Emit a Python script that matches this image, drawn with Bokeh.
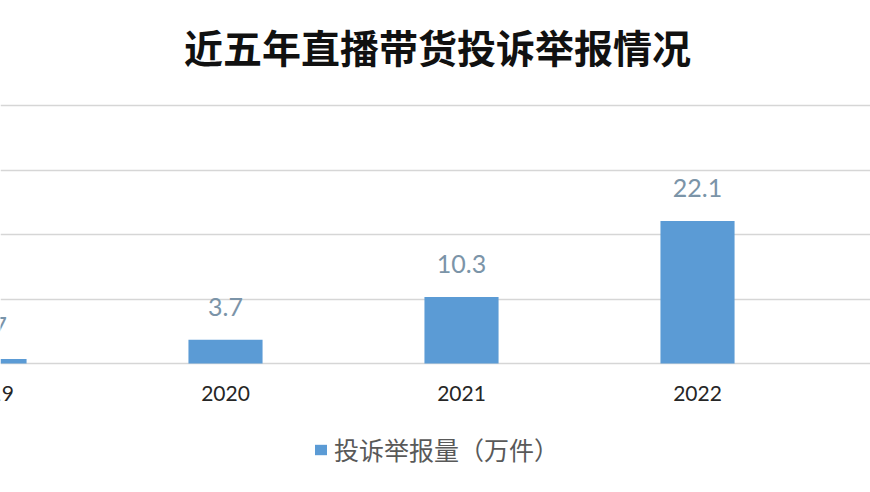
from bokeh.plotting import figure
from bokeh.models import ColumnDataSource, Range1d, FixedTicker, Legend, Label
from bokeh.embed import file_html
from bokeh.resources import INLINE
from bokeh.core.properties import value

years = ["2019", "2020", "2021", "2022"]
counts = [0.7, 3.7, 10.3, 22.1]
labels = ["0.7", "3.7", "10.3", "22.1"]
series_name = "投诉举报量（万件）"
title_text = "近五年直播带货投诉举报情况"

idx = list(range(len(years)))
src = ColumnDataSource(dict(x=idx, y=counts, lab=labels, yr=years, zero=[0] * len(years)))

p = figure(width=870, height=492, output_backend="svg", toolbar_location=None,
           x_range=Range1d(0.0466, 3.733), y_range=Range1d(-20.0, 56.28),
           min_border_left=0, min_border_right=0, min_border_top=0, min_border_bottom=0)
p.background_fill_color = "white"
p.border_fill_color = "white"
p.outline_line_color = None

r = p.vbar(x="x", top="y", bottom="zero", width=0.314, source=src,
           fill_color="#5b9bd5", line_color=None)
p.text(x="x", y="y", text="lab", source=src, y_offset=-24,
       text_align="center", text_baseline="bottom",
       text_font=value("Lato"), text_font_size="25px", text_color="#7b94a8")
# category (year) labels under the baseline
p.text(x="x", y="zero", text="yr", source=src, y_offset=30,
       text_align="center", text_baseline="middle",
       text_font=value("Lato"), text_font_size="21px", text_color="#262626")

title = Label(x=437, y=447, x_units="screen", y_units="screen", text=title_text,
              text_align="center", text_baseline="middle",
              text_font="Noto Sans CJK SC", text_font_size="39px",
              text_font_style="bold", text_color="#111111")
p.add_layout(title)

p.xaxis.visible = False
p.yaxis.visible = False
p.xgrid.visible = False
p.ygrid.ticker = FixedTicker(ticks=[0, 10, 20, 30, 40])
p.ygrid.grid_line_color = "#d6d6d6"
p.ygrid.grid_line_width = 1.5

legend = Legend(items=[(series_name, [r])], orientation="horizontal",
                location=(313, 25), border_line_color=None,
                background_fill_alpha=0, label_text_font="Noto Sans CJK SC",
                label_text_font_size="25px", label_text_color="#595959",
                glyph_width=15, glyph_height=13, margin=0, padding=0,
                label_standoff=6)
p.add_layout(legend)

open("out.html", "w").write(file_html(p, INLINE))
